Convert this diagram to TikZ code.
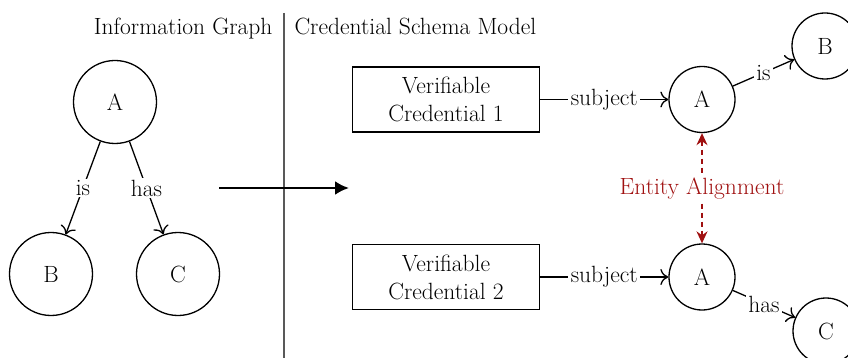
\documentclass[tikz,border=0pt]{standalone}
\usetikzlibrary{arrows.meta}
\definecolor{alignred}{HTML}{A01010}
\begin{document}
\begin{tikzpicture}[x=1pt,y=-1pt,
  every node/.style={font=\fontsize{23.5}{28}\selectfont},
  ent/.style={draw,circle,line width=1.3pt,inner sep=0pt},
  bigent/.style={ent,minimum size=83pt},
  smallent/.style={ent,minimum size=66pt},
  vcbox/.style={draw,line width=1.3pt,minimum width=187pt,minimum height=65pt,align=center,inner sep=2pt},
  rel/.style={-{To[length=8pt,width=16pt]},line width=1.3pt},
  lbl/.style={fill=white,inner xsep=2.5pt,inner ysep=1.5pt},
  align arrow/.style={{Stealth[length=12pt,width=11pt]}-{Stealth[length=12pt,width=11pt]},
    dashed,dash pattern=on 5pt off 4pt,line width=1.4pt,draw=alignred}]
\useasboundingbox (0,0) rectangle (848,358);

% headings and divider
\node[anchor=base east] (hleft) at (276,35) {Information Graph};
\node[anchor=base west] (hright) at (291,35) {Credential Schema Model};
\coordinate (divtop) at (284,13);
\coordinate (divbot) at (284,358);
\draw[line width=1.5pt,draw=black!65] (divtop) -- (divbot);

% information graph
\node[bigent] (A) at (115,102) {A};
\node[bigent] (B) at (51,274) {B};
\node[bigent] (C) at (178,274) {C};
\draw[rel] (A) -- node[lbl] {is} (B);
\draw[rel] (A) -- node[lbl] {has} (C);

% transformation arrow
\coordinate (tstart) at (219,188);
\coordinate (tend) at (349,188);
\draw[line width=2.6pt,-{Latex[length=14pt,width=14pt]}] (tstart) -- (tend);

% credential schema model
\node[vcbox] (vc1) at (446,99.5) {Verifiable\\Credential 1};
\node[vcbox] (vc2) at (446,277) {Verifiable\\Credential 2};
\node[smallent] (A1) at (702,99.5) {A};
\node[smallent] (A2) at (702,277) {A};
\node[smallent] (B2) at (825,46) {B};
\node[smallent] (C2) at (826,331) {C};

\draw[rel] (vc1) -- node[lbl] {subject} (A1);
\draw[rel] (vc2) -- node[lbl] {subject} (A2);
\draw[rel] (A1) -- node[lbl] {is} (B2);
\draw[rel] (A2) -- node[lbl] {has} (C2);

\draw[align arrow] (A1) -- node[lbl,text=alignred] {Entity Alignment} (A2);
\end{tikzpicture}
\end{document}
